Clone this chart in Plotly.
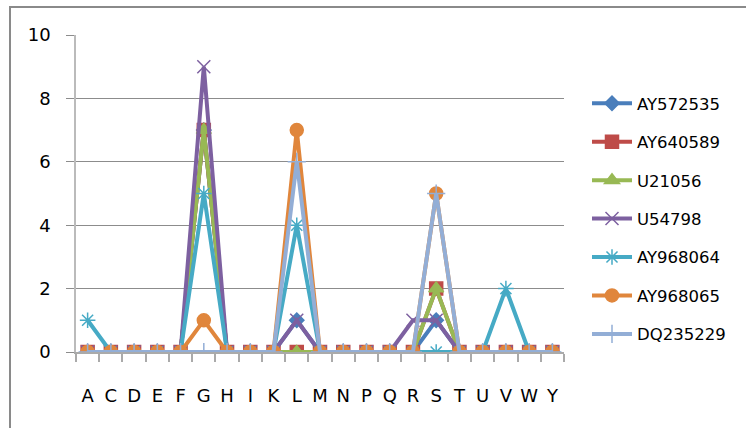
import plotly.graph_objects as go

categories = ["A","C","D","E","F","G","H","I","K","L","M","N","P","Q","R","S","T","U","V","W","Y"]

AY572535 = [0,0,0,0,0,7,0,0,0,1,0,0,0,0,0,1,0,0,0,0,0]
AY640589 = [0,0,0,0,0,7,0,0,0,0,0,0,0,0,0,2,0,0,0,0,0]
U21056   = [0,0,0,0,0,7,0,0,0,0,0,0,0,0,0,2,0,0,0,0,0]
U54798   = [0,0,0,0,0,9,0,0,0,1,0,0,0,0,1,1,0,0,0,0,0]
AY968064 = [1,0,0,0,0,5,0,0,0,4,0,0,0,0,0,0,0,0,2,0,0]
AY968065 = [0,0,0,0,0,1,0,0,0,7,0,0,0,0,0,5,0,0,0,0,0]
DQ235229 = [0,0,0,0,0,0,0,0,0,6,0,0,0,0,0,5,0,0,0,0,0]

y_ticks = [0, 2, 4, 6, 8, 10]

series = [
    ("AY572535", AY572535, "#4a7ebb", "diamond", 11),
    ("AY640589", AY640589, "#be4b48", "square", 13),
    ("U21056", U21056, "#98b954", "triangle-up", 13),
    ("U54798", U54798, "#7d60a0", "x-thin-open", 13),
    ("AY968064", AY968064, "#46aac5", "asterisk-open", 13),
    ("AY968065", AY968065, "#e0863c", "circle", 13),
    ("DQ235229", DQ235229, "#93aed6", "cross-thin-open", 13),
]

fig = go.Figure()
for name, vals, color, sym, size in series:
    fig.add_trace(go.Scatter(
        x=categories, y=vals, name=name, mode="lines+markers",
        legendgroup=name,
        line=dict(color=color, width=4),
        marker=dict(symbol=sym, size=size, color=color,
                    line=dict(color=color, width=1.5)),
    ))

L, R, T, B = 76, 182, 35, 76
W, H = 746, 428
pw, ph = W - L - R, H - T - B

def px_x(x):
    return (x - L) / pw

def px_y(y):
    return (H - B - y) / ph

fig.update_layout(
    width=W, height=H,
    margin=dict(l=L, r=R, t=T, b=B),
    paper_bgcolor="white", plot_bgcolor="white",
    font=dict(family="DejaVu Sans", size=18, color="#000"),
    showlegend=True,
    legend=dict(x=px_x(587), y=px_y(86), xanchor="left", yanchor="top",
                tracegroupgap=14, font=dict(size=16.5, color="#000"),
                bgcolor="rgba(0,0,0,0)", itemwidth=40, borderwidth=0),
    xaxis=dict(
        type="category", categoryorder="array", categoryarray=categories,
        showgrid=False, showline=True, linecolor="#aaaaaa", linewidth=1.5,
        ticks="outside", tickson="boundaries", ticklen=8, tickcolor="#aaaaaa",
        tickwidth=1.5, ticklabelstandoff=27, zeroline=False, tickangle=0,
        range=[-0.5, len(categories) - 0.5],
    ),
    yaxis=dict(
        range=[0, 10], tickvals=y_ticks, showgrid=True, gridcolor="#8c8c8c",
        gridwidth=1.2, showline=True, linecolor="#bbbbbb", linewidth=1.5,
        ticks="outside", ticklen=8, tickcolor="#8c8c8c", tickwidth=1.2,
        ticklabelstandoff=12, zeroline=False,
    ),
    shapes=[dict(type="rect", xref="paper", yref="paper",
                 x0=px_x(10), y0=px_y(470), x1=px_x(800), y1=px_y(7),
                 line=dict(color="#8a8a8a", width=2), layer="below")],
)

fig.write_html("out.html")
